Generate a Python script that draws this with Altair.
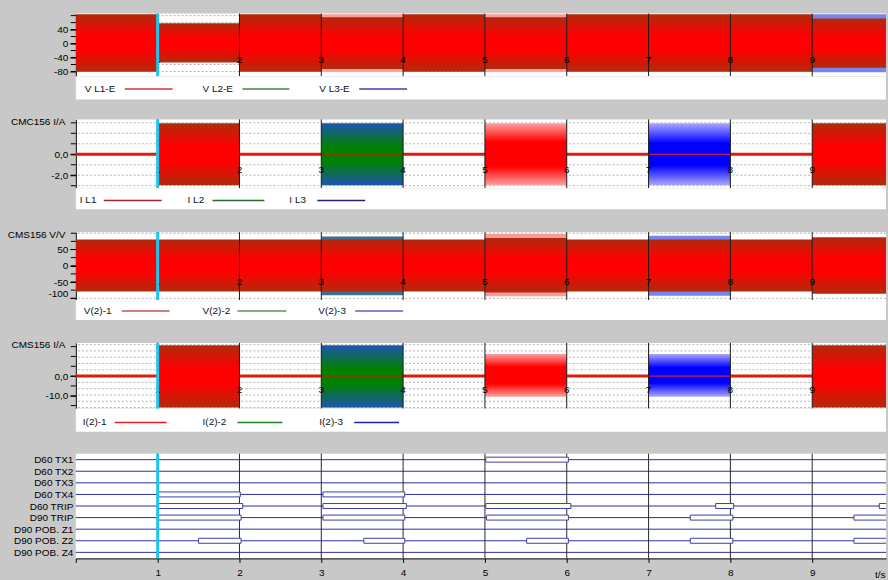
import altair as alt
import pandas as pd

FONT = "Liberation Sans"
BG = "#c8c8c8"
T_END = 9.902          # right edge of the visible time window (s)
PLOT_W = 812

# time axis
axis_seconds = [0, 1, 2, 3, 4, 5, 6, 7, 8, 9]
seconds = [1, 2, 3, 4, 5, 6, 7, 8, 9]
cursor_at = [1.0]

# ---------- CMC156 phase-earth voltages (V) ----------
v_names = ["V L1-E", "V L2-E", "V L3-E"]
v_start = [0, 1, 2, 3, 3, 4, 5, 5, 6, 9, 9]
v_end = [1, 2, 3, 4, 4, 5, 6, 6, 9, 10, 10]
v_lo = [-81, -54, -81, -81, -73, -81, -81, -73, -81, -82, -69]
v_hi = [84, 58, 84, 84, 75, 84, 84, 75, 84, 84, 72]
v_kind = ["red", "red", "red", "red_comb", "red", "red", "red_comb", "red",
          "red", "blue_comb", "red"]
v_ticks = [-80, -60, -40, -20, 0, 20, 40, 60, 80]
v_labels = [40, 0, -40, -80]

# ---------- CMC156 phase currents (A) ----------
i_names = ["I L1", "I L2", "I L3"]
i_start = [1, 3, 5, 7, 9]
i_end = [2, 4, 6, 8, 10]
i_lo = [-2.95, -2.95, -2.95, -2.95, -2.95]
i_hi = [2.95, 2.95, 2.95, 2.95, 2.95]
i_kind = ["red", "green", "red_light", "blue", "red"]
i_centre_start = [3, 7]
i_centre_end = [4, 8]
i_centre_kind = ["brown", "red"]
i_ticks = [-3, -2, -1, 0, 1, 2, 3]
i_labels = [0, -2]

# ---------- CMS156 voltages V(2) ----------
v2_names = ["V(2)-1", "V(2)-2", "V(2)-3"]
v2_start = [0, 3, 3, 4, 5, 5, 6, 7, 7, 8, 9]
v2_end = [3, 4, 4, 5, 6, 6, 7, 8, 8, 9, 10]
v2_lo = [-79, -91, -79, -79, -94, -82, -79, -92, -79, -79, -86]
v2_hi = [81, 90, 81, 81, 98, 85, 81, 92, 81, 81, 88]
v2_kind = ["red", "bg_comb", "red", "red", "red_comb", "red", "red",
           "blue_comb", "red", "red", "red"]
v2_ticks = [-100, -75, -50, -25, 0, 25, 50, 75, 100]
v2_labels = [50, 0, -50, -100]

# ---------- CMS156 currents I(2) ----------
i2_names = ["I(2)-1", "I(2)-2", "I(2)-3"]
i2_start = [1, 3, 5, 7, 9]
i2_end = [2, 4, 6, 8, 10]
i2_lo = [-16, -16, -10.5, -10.5, -16]
i2_hi = [15.7, 15.7, 11.3, 11.3, 15.7]
i2_kind = ["red", "green", "red_light", "blue", "red"]
i2_centre_start = [3, 7]
i2_centre_end = [4, 8]
i2_centre_kind = ["brown", "red"]
i2_ticks = [-15, -10, -5, 0, 5, 10, 15]
i2_grid = [-16, -12.8, -9.6, -6.4, -3.2, 0, 3.2, 6.4, 9.6, 12.8, 16]
i2_labels = [0, -10]

# ---------- binary signals ----------
rows = ["D60 TX1", "D60 TX2", "D60 TX3", "D60 TX4", "D60 TRIP", "D90 TRIP",
        "D90 POB. Z1", "D90 POB. Z2", "D90 POB. Z4"]
act_row = ["D60 TX1",
           "D60 TX4", "D60 TX4",
           "D60 TRIP", "D60 TRIP", "D60 TRIP", "D60 TRIP", "D60 TRIP",
           "D90 TRIP", "D90 TRIP", "D90 TRIP", "D90 TRIP", "D90 TRIP",
           "D90 POB. Z2", "D90 POB. Z2", "D90 POB. Z2", "D90 POB. Z2", "D90 POB. Z2"]
act_start = [5.01,
             1.0, 3.02,
             1.0, 3.02, 5.01, 7.82, 9.82,
             1.0, 3.02, 5.02, 7.51, 9.51,
             1.50, 3.52, 5.51, 7.51, 9.51]
act_end = [6.02,
           2.01, 4.02,
           2.04, 4.04, 6.05, 8.04, 10.5,
           2.02, 4.02, 6.02, 8.03, 10.5,
           2.02, 4.02, 6.02, 8.03, 10.5]


def vgrad(edge, mid, inner=0.38):
    return alt.LinearGradient(
        gradient="linear", x1=0, y1=0, x2=0, y2=1,
        stops=[alt.GradientStop(offset=0, color=edge),
               alt.GradientStop(offset=inner, color=mid),
               alt.GradientStop(offset=1 - inner, color=mid),
               alt.GradientStop(offset=1, color=edge)])


FILLS = {
    "red_comb": "#ff9a9a",
    "blue_comb": "#7684f0",
    "bg_comb": "#3f6f90",
    "red": vgrad("#b02a0c", "#ff0000"),
    "green": vgrad("#1d55b0", "#008000"),
    "red_light": vgrad("#ffa0a0", "#ff0000", 0.3),
    "blue": vgrad("#a8a8ff", "#0000ff", 0.32),
}
DRAW_ORDER = ["red_comb", "blue_comb", "bg_comb", "red", "green", "red_light", "blue"]
CENTRE_COLOURS = {"brown": ("#7a4200", 2), "red": ("#ff2020", 1)}


def label_expr(decimals):
    sign = "(datum.value < 0 ? '-' : '')"
    if decimals:
        return sign + " + replace(format(abs(datum.value), '.1f'), '.', ',')"
    return sign + " + format(abs(datum.value), 'd')"


def wave_panel(start, end, lo, hi, kind, y_dom, ticks, shown, decimals, title,
               digit_y, height, grid=None, centre=None):
    xs = alt.Scale(domain=[0, T_END], nice=False, zero=False)
    ys = alt.Scale(domain=y_dom, nice=False, zero=False)
    ax = dict(values=shown, labelExpr=label_expr(decimals), labelOverlap=False,
              labelFlush=3, tickSize=6, labelPadding=2, grid=False)
    if title:
        ax.update(title=title, titleAngle=0, titleAlign="right",
                  titleBaseline="middle", titleX=-11, titleY=2)
    else:
        ax["title"] = None
    # the same axis definition on every layer so the merged axis keeps it
    y_axis = alt.Axis(**ax)

    def X(field):
        return alt.X(field, scale=xs, axis=None)

    def Y(field):
        return alt.Y(field, scale=ys, axis=y_axis)

    layers = []
    grid_vals = grid if grid is not None else ticks
    layers.append(
        alt.Chart(pd.DataFrame({"g": grid_vals}))
        .mark_rule(color="#b4b4b4", strokeDash=[2, 2], strokeWidth=1)
        .encode(y=Y("g:Q"))
    )
    # unlabelled tick marks left of the plot
    layers.append(
        alt.Chart(pd.DataFrame({"g": ticks}))
        .mark_rule(color="black", strokeWidth=1)
        .encode(y=Y("g:Q"), x=alt.value(-5), x2=alt.value(0))
    )
    if centre is not None:
        layers.append(
            alt.Chart(pd.DataFrame({"v": [0]}))
            .mark_rule(color="#dc1c0c", strokeWidth=3)
            .encode(y=Y("v:Q"))
        )
    segs = pd.DataFrame({"t0": start, "t1": end, "lo": lo, "hi": hi, "kind": kind})
    for k in DRAW_ORDER:
        if k not in kind:
            continue
        layers.append(
            alt.Chart(segs)
            .transform_filter(alt.datum.kind == k)
            .mark_rect(fill=FILLS[k], strokeWidth=0, clip=True)
            .encode(x=X("t0:Q"), x2="t1:Q", y=Y("lo:Q"), y2="hi:Q")
        )
    if centre is not None:
        c_start, c_end, c_kind = centre
        cdf = pd.DataFrame({"a": c_start, "b": c_end, "kind": c_kind, "v": [0] * len(c_start)})
        for k, (col, w) in CENTRE_COLOURS.items():
            layers.append(
                alt.Chart(cdf)
                .transform_filter(alt.datum.kind == k)
                .mark_rule(color=col, strokeWidth=w)
                .encode(x=X("a:Q"), x2="b:Q", y=Y("v:Q"))
            )
    sec = pd.DataFrame({"t": seconds})
    layers.append(
        alt.Chart(sec).mark_rule(color="#1a1a1a", strokeWidth=1)
        .encode(x=X("t:Q"))
    )
    layers.append(
        alt.Chart(sec).mark_text(font=FONT, fontSize=10, color="black",
                                 align="center", baseline="middle")
        .encode(x=X("t:Q"), y=alt.YDatum(digit_y, scale=ys, axis=y_axis), text="t:Q")
    )
    layers.append(
        alt.Chart(pd.DataFrame({"t": cursor_at}))
        .mark_rule(color="#1cc6f2", strokeWidth=3)
        .encode(x=X("t:Q"))
    )
    return alt.layer(*layers).properties(width=PLOT_W, height=height)


def legend_strip(names, colours, label_x, line_x, strip_h, gap_h, text_y, line_w):
    """White legend row under a panel, followed by the grey gap to the next panel."""
    base = alt.Chart(pd.DataFrame({"k": [0]}))
    layers = [
        base.mark_rect(color="white").encode(
            x=alt.value(0), x2=alt.value(PLOT_W), y=alt.value(0), y2=alt.value(strip_h))
    ]
    for name, col, lx, (a, b) in zip(names, colours, label_x, line_x):
        layers.append(
            base.mark_text(text=name, align="left", baseline="middle",
                           font=FONT, fontSize=10, color="#111111")
            .encode(x=alt.value(lx), y=alt.value(text_y))
        )
        layers.append(
            base.mark_rule(color=col, strokeWidth=line_w)
            .encode(x=alt.value(a), x2=alt.value(b), y=alt.value(text_y))
        )
    return alt.layer(*layers).properties(
        width=PLOT_W, height=strip_h + gap_h, view=alt.ViewBackground(fill=BG))


def digital_panel(height):
    xs = alt.Scale(domain=[0, T_END], nice=False, zero=False)
    ys = alt.Scale(type="point", domain=rows, padding=0.52)
    x_axis = alt.Axis(values=axis_seconds,
                      labelExpr="datum.value == 0 ? '' : datum.label",
                      tickSize=4, labelPadding=5, grid=False,
                      title="t/s", titleX=811, titleY=16,
                      titleAlign="right", titleBaseline="middle")
    y_axis = alt.Axis(title=None, ticks=False, domain=False, labelPadding=3, grid=False)

    row_lines = (
        alt.Chart(pd.DataFrame({"row": rows}))
        .mark_rule(color="#2d2da6", strokeWidth=1)
        .encode(y=alt.Y("row:N", scale=ys, axis=y_axis))
    )
    vlines = (
        alt.Chart(pd.DataFrame({"t": seconds}))
        .mark_rule(color="#2a2a2a", strokeWidth=1)
        .encode(x=alt.X("t:Q", scale=xs, axis=x_axis))
    )
    act = pd.DataFrame({"row": act_row, "a": act_start, "b": act_end})
    boxes = (
        alt.Chart(act)
        .mark_bar(size=5, fill="#fffff0", stroke="#3f3fb5", strokeWidth=1, clip=True)
        .encode(x=alt.X("a:Q", scale=xs, axis=x_axis), x2="b:Q",
                y=alt.Y("row:N", scale=ys, axis=y_axis))
    )
    cursor = (
        alt.Chart(pd.DataFrame({"t": cursor_at}))
        .mark_rule(color="#1cc6f2", strokeWidth=3)
        .encode(x=alt.X("t:Q", scale=xs, axis=x_axis))
    )
    return alt.layer(row_lines, vlines, boxes, cursor).properties(width=PLOT_W, height=height)


w1 = wave_panel(v_start, v_end, v_lo, v_hi, v_kind, [-94.3, 85.7], v_ticks, v_labels, 0,
                None, -48, 63)
l1 = legend_strip(v_names, ["#c83c3c", "#3c8c3c", "#3c3cb4"], [9, 127, 244],
                  [(49, 97), (167, 214), (284, 332)], 23, 20, 12.5, 1.5)

w2 = wave_panel(i_start, i_end, i_lo, i_hi, i_kind, [-3.24, 3.33], i_ticks, i_labels, 1,
                "CMC156 I/A", -1.5, 69,
                centre=(i_centre_start, i_centre_end, i_centre_kind))
l2 = legend_strip(i_names, ["#a02828", "#2a6a2a", "#22227a"], [4, 112, 214],
                  [(28, 86), (137, 189), (242, 290)], 21, 23, 12.3, 1.5)

w3 = wave_panel(v2_start, v2_end, v2_lo, v2_hi, v2_kind, [-105.2, 103.4], v2_ticks, v2_labels, 0,
                "CMS156 V/V", -50, 68)
l3 = legend_strip(v2_names, ["#d08080", "#80b080", "#8888cc"], [8, 127, 243],
                  [(46, 94), (162, 211), (280, 328)], 20, 23, 11, 2)

w4 = wave_panel(i2_start, i2_end, i2_lo, i2_hi, i2_kind, [-16.6, 16.9], i2_ticks, i2_labels, 1,
                "CMS156 I/A", -7, 66, grid=i2_grid,
                centre=(i2_centre_start, i2_centre_end, i2_centre_kind))
l4 = legend_strip(i2_names, ["#e02020", "#208020", "#2020b0"], [7, 127, 244],
                  [(39, 91), (162, 207), (279, 324)], 23, 22, 13.7, 1.5)

w5 = digital_panel(105)

chart = (
    alt.vconcat(w1, l1, w2, l2, w3, l3, w4, l4, w5, spacing=0, bounds="flush")
    .configure(background=BG, font=FONT,
               padding={"left": 7, "top": 11, "right": 0, "bottom": 0})
    .configure_view(fill="white", strokeWidth=0)
    .configure_axis(labelFont=FONT, titleFont=FONT, labelFontSize=10, titleFontSize=10,
                    labelColor="black", titleColor="black", domainColor="black",
                    tickColor="black", titleFontWeight="normal")
)

chart.save("out.html", embed_options={"renderer": "svg", "actions": False})
